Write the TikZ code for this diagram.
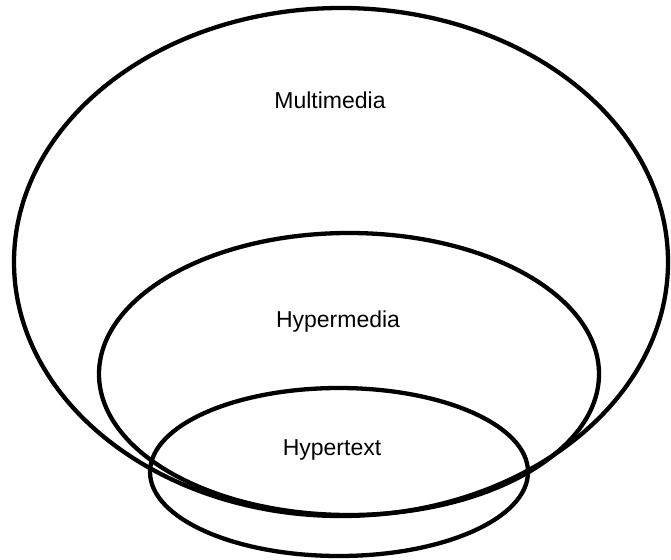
\documentclass[tikz,border=0pt]{standalone}
\usepackage{fontspec}
\setmainfont{Liberation Sans}
\tikzset{
    insieme/.style={draw, line width=4.3pt},
    etichetta/.style={anchor=base, font=\fontsize{23}{26}\selectfont}
}
\begin{document}
\begin{tikzpicture}[x=1pt, y=-1pt]
        \useasboundingbox (0, 0) rectangle (671, 559);

        % Ellisse multimedia
        \draw[insieme] (341, 262) ellipse [x radius=327, y radius=254];

        % Ellisse ipermedia
        \draw[insieme] (349, 374) ellipse [x radius=250, y radius=141];

        % Ellisse ipertesto
        \draw[insieme] (339, 472) ellipse [x radius=189, y radius=84];

        % Etichette
        \node[etichetta] at (330, 109) (multimedia) {Multimedia};
        \node[etichetta] at (338, 327) (hypermedia) {Hypermedia};
        \node[etichetta] at (332, 455) (hypertext) {Hypertext};
    \end{tikzpicture}
\end{document}
